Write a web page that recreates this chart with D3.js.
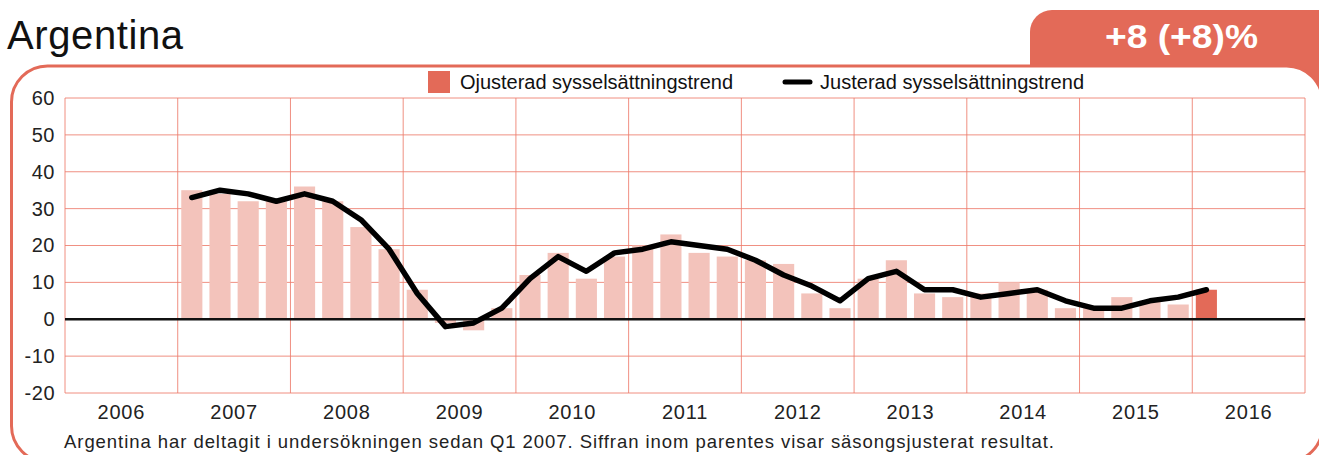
<!DOCTYPE html>
<html>
<head>
<meta charset="utf-8">
<script src="https://cdn.jsdelivr.net/npm/d3@7"></script>
<style>
  html, body { margin: 0; padding: 0; background: #fff; }
  svg { display: block; font-family: "Liberation Sans", Arial, sans-serif; }
</style>
</head>
<body>
<svg id="chart" width="1319" height="455"></svg>
<script>
// years shown on the x axis
var years = [2006, 2007, 2008, 2009, 2010, 2011, 2012, 2013, 2014, 2015, 2016];
// quarters with data, 2007 Q1 .. 2016 Q1
var quarters = [
  '2007Q1','2007Q2','2007Q3','2007Q4',
  '2008Q1','2008Q2','2008Q3','2008Q4',
  '2009Q1','2009Q2','2009Q3','2009Q4',
  '2010Q1','2010Q2','2010Q3','2010Q4',
  '2011Q1','2011Q2','2011Q3','2011Q4',
  '2012Q1','2012Q2','2012Q3','2012Q4',
  '2013Q1','2013Q2','2013Q3','2013Q4',
  '2014Q1','2014Q2','2014Q3','2014Q4',
  '2015Q1','2015Q2','2015Q3','2015Q4',
  '2016Q1'
];
// Ojusterad sysselsättningstrend (bars)
var unadjusted = [
  35, 34, 32, 32,
  36, 32, 25, 19,
  8, -1, -3, 3,
  12, 18, 11, 17,
  20, 23, 18, 17,
  16, 15, 7, 3,
  11, 16, 7, 6,
  7, 10, 8, 3,
  3, 6, 5, 4,
  8
];
// Justerad sysselsättningstrend (line)
var adjusted = [
  33, 35, 34, 32,
  34, 32, 27, 19,
  7, -2, -1, 3,
  11, 17, 13, 18,
  19, 21, 20, 19,
  16, 12, 9, 5,
  11, 13, 8, 8,
  6, 7, 8, 5,
  3, 3, 5, 6,
  8
];
var yTicks = [-20, -10, 0, 10, 20, 30, 40, 50, 60];

var coral = '#e36a58';
var grid = '#ee7d6d';
var barLight = '#f3c3bb';

var svg = d3.select('#chart');

// badge tab behind the frame
svg.append('rect')
  .attr('x', 1030).attr('y', 10)
  .attr('width', 320).attr('height', 100)
  .attr('rx', 22)
  .attr('fill', coral);

// rounded frame
svg.append('rect')
  .attr('x', 11.5).attr('y', 66)
  .attr('width', 1311).attr('height', 396)
  .attr('rx', 36)
  .attr('fill', '#fff')
  .attr('stroke', coral)
  .attr('stroke-width', 3);

svg.append('text')
  .attr('x', 1105).attr('y', 48)
  .attr('fill', '#fff')
  .attr('font-weight', 'bold')
  .attr('font-size', 33)
  .attr('textLength', 153)
  .attr('lengthAdjust', 'spacingAndGlyphs')
  .text('+8 (+8)%');

svg.append('text')
  .attr('x', 7).attr('y', 49)
  .attr('font-size', 40)
  .attr('fill', '#111')
  .attr('textLength', 176)
  .text('Argentina');

// scales
var plotLeft = 65, plotRight = 1305, plotTop = 98, plotBottom = 393;
var allQuarters = [];
years.forEach(function(yr) {
  for (var q = 1; q <= 4; q++) allQuarters.push(yr + 'Q' + q);
});

var xYear = d3.scaleBand().domain(years).range([plotLeft, plotRight]);
var xQ = d3.scaleBand().domain(allQuarters).range([plotLeft, plotRight])
  .paddingInner(0.25).paddingOuter(0.125);
var y = d3.scaleLinear().domain([-20, 60]).range([plotBottom, plotTop]);

// grid
var g = svg.append('g');
g.selectAll('line.h').data(yTicks).enter().append('line')
  .attr('x1', plotLeft).attr('x2', plotRight)
  .attr('y1', function(d) { return y(d); })
  .attr('y2', function(d) { return y(d); })
  .attr('stroke', grid).attr('stroke-width', 1).attr('opacity', 0.85);

var vlines = years.map(function(d) { return xYear(d); }).concat([plotRight]);
g.selectAll('line.v').data(vlines).enter().append('line')
  .attr('x1', function(d) { return d; }).attr('x2', function(d) { return d; })
  .attr('y1', plotTop).attr('y2', plotBottom)
  .attr('stroke', grid).attr('stroke-width', 1).attr('opacity', 0.85);

// bars
svg.append('g').selectAll('rect').data(quarters).enter().append('rect')
  .attr('x', function(d) { return xQ(d); })
  .attr('width', xQ.bandwidth())
  .attr('y', function(d, i) { return y(Math.max(0, unadjusted[i])); })
  .attr('height', function(d, i) { return Math.abs(y(unadjusted[i]) - y(0)); })
  .attr('fill', function(d, i) { return i === quarters.length - 1 ? coral : barLight; });

// zero line
svg.append('line')
  .attr('x1', plotLeft).attr('x2', plotRight)
  .attr('y1', y(0)).attr('y2', y(0))
  .attr('stroke', '#111').attr('stroke-width', 2.5);

// trend line
var line = d3.line()
  .x(function(d, i) { return xQ(quarters[i]) + xQ.bandwidth() / 2; })
  .y(function(d) { return y(d); });

svg.append('path')
  .datum(adjusted)
  .attr('d', line)
  .attr('fill', 'none')
  .attr('stroke', '#000')
  .attr('stroke-width', 5.5)
  .attr('stroke-linejoin', 'round')
  .attr('stroke-linecap', 'round');

// y axis labels (plain hyphen for negatives, like the original)
var yAxis = d3.axisLeft(y).tickValues(yTicks).tickSize(0).tickPadding(10)
  .tickFormat(function(d) { return String(d); });
var ya = svg.append('g').attr('transform', 'translate(' + plotLeft + ',0)').call(yAxis);
ya.select('.domain').remove();
ya.selectAll('text').attr('font-size', 20).attr('fill', '#222')
  .attr('letter-spacing', 0.5)
  .attr('font-family', '"Liberation Sans", Arial, sans-serif');

// x axis labels
var xAxis = d3.axisBottom(xYear).tickSize(0).tickPadding(12);
var xa = svg.append('g').attr('transform', 'translate(0,' + plotBottom + ')').call(xAxis);
xa.select('.domain').remove();
xa.selectAll('text').attr('font-size', 20).attr('fill', '#222')
  .attr('letter-spacing', 0.8)
  .attr('font-family', '"Liberation Sans", Arial, sans-serif');

// legend
var lg = svg.append('g');
lg.append('rect').attr('x', 428).attr('y', 71).attr('width', 22).attr('height', 22).attr('fill', coral);
lg.append('text').attr('x', 460).attr('y', 89).attr('font-size', 20).attr('fill', '#111')
  .attr('textLength', 273)
  .text('Ojusterad sysselsättningstrend');
lg.append('line').attr('x1', 785).attr('x2', 810).attr('y1', 82).attr('y2', 82)
  .attr('stroke', '#000').attr('stroke-width', 5).attr('stroke-linecap', 'round');
lg.append('text').attr('x', 820).attr('y', 89).attr('font-size', 20).attr('fill', '#111')
  .attr('textLength', 264)
  .text('Justerad sysselsättningstrend');

// footnote
svg.append('text')
  .attr('x', 64).attr('y', 448)
  .attr('font-size', 18.5)
  .attr('fill', '#222')
  .attr('textLength', 990)
  .text('Argentina har deltagit i undersökningen sedan Q1 2007. Siffran inom parentes visar säsongsjusterat resultat.');
</script>
</body>
</html>
